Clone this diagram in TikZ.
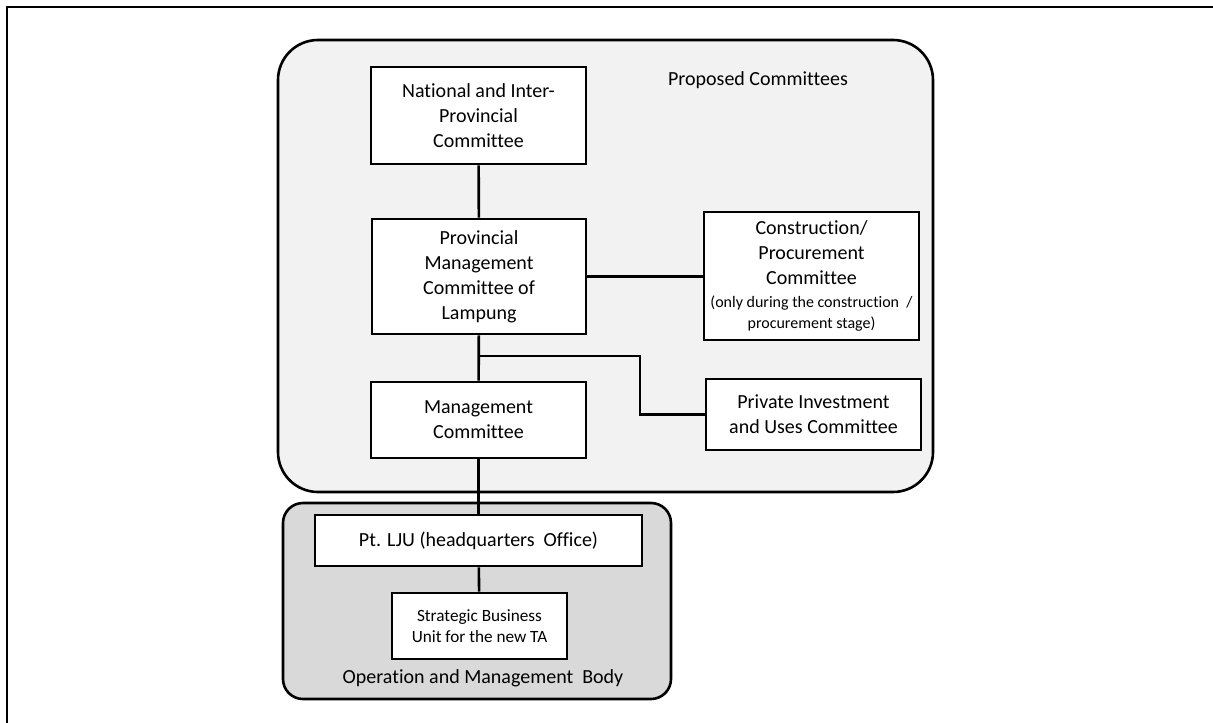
\documentclass[tikz,border=0pt]{standalone}
\usepackage{fontspec}
\setmainfont[Ligatures={NoCommon}]{Carlito}
\definecolor{lightbg}{HTML}{F2F2F2}
\definecolor{darkbg}{HTML}{D9D9D9}
\begin{document}
\begin{tikzpicture}[x=0.5pt,y=-0.5pt,
  box/.style={draw, line width=1.3pt, fill=white, align=center, inner sep=0pt,
    font=\fontsize{10}{12.5}\selectfont},
  conn/.style={line width=1.3pt},
  lbl/.style={inner sep=0pt, font=\fontsize{10}{12.5}\selectfont}]
\useasboundingbox (0,0) rectangle (1213,722);
\draw[line width=1.3pt] (7,730) -- (7,7) -- (1220,7);
\draw[line width=1.3pt, fill=lightbg, rounded corners=20pt] (278,40) rectangle (933,492);
\draw[line width=1.3pt, fill=darkbg, rounded corners=10pt] (283,503) rectangle (671,699);
\node[lbl] (pc) at (758,80) {Proposed Committees};
\node[lbl] (omb) at (483,678) {Operation and Management\ \ Body};
\coordinate (j) at (479,356);
\coordinate (k) at (640,356);
\node[box, minimum width=107.5pt, minimum height=48.5pt] (nat) at (478.5,115.5)
  {National and Inter-\\Provincial\\Committee};
\node[box, minimum width=107pt, minimum height=57.5pt] (prov) at (479,276.5)
  {Provincial\\Management\\Committee of\\Lampung};
\node[box, minimum width=107.5pt, minimum height=64pt] (cons) at (811.5,276)
  {Construction/\\Procurement\\Committee\\[-1pt]{\fontsize{8}{10}\selectfont(only during the construction~~/}\\[-2pt]{\fontsize{8}{10}\selectfont procurement stage)}};
\node[box, minimum width=107.5pt, minimum height=35.5pt] (priv) at (813.5,414.5)
  {Private Investment\\and Uses Committee};
\node[box, minimum width=107.5pt, minimum height=38pt] (mgmt) at (478.5,420)
  {Management\\Committee};
\node[box, minimum width=163.5pt, minimum height=25.5pt] (pt) at (478.5,540.5)
  {Pt. LJU (headquarters\ \ Office)};
\node[box, minimum width=87.5pt, minimum height=33pt, font=\fontsize{8.6}{10.8}\selectfont] (sbu) at (479.5,626)
  {Strategic Business\\Unit for the new TA};
\draw[conn] (nat) -- (prov);
\draw[conn] (prov.east) -- (prov.east -| cons.west);
\draw[conn] (prov) -- (mgmt);
\draw[conn] (j) -- (k) |- (priv.west);
\draw[conn] (mgmt) -- (pt);
\draw[conn] (pt) -- (sbu);
\end{tikzpicture}
\end{document}
